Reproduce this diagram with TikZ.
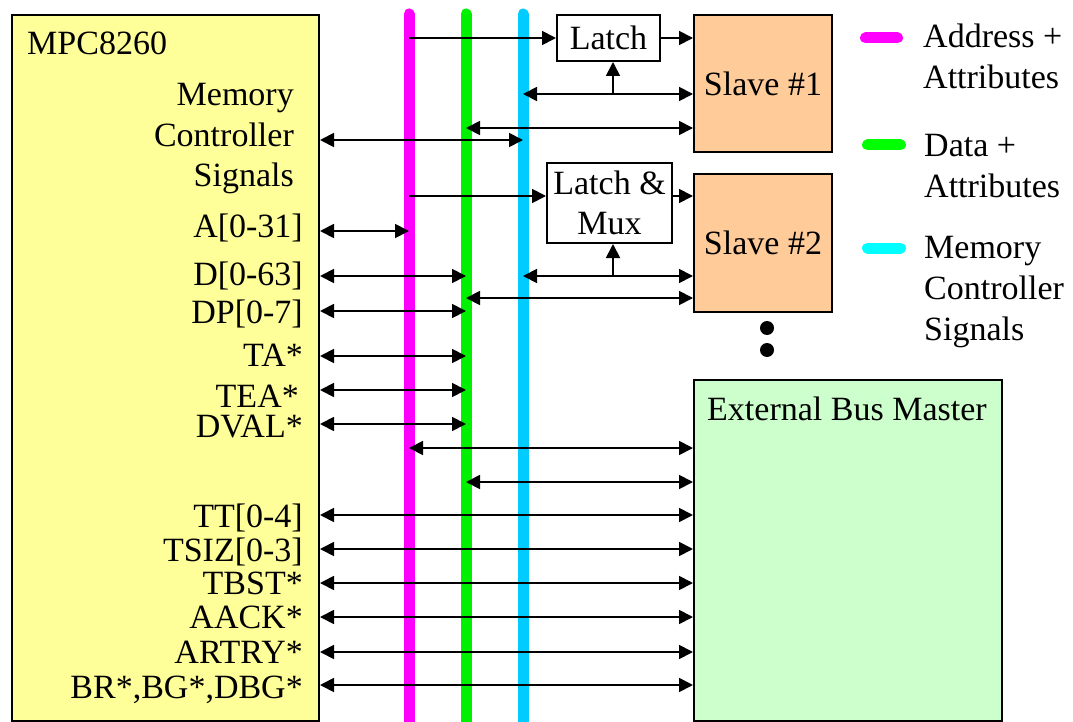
\documentclass[tikz,border=0pt]{standalone}
\usepackage{fontspec}
\setmainfont{Liberation Serif}
\usetikzlibrary{arrows.meta}
\definecolor{busmag}{HTML}{FF00FF}
\definecolor{busgrn}{HTML}{00F000}
\definecolor{buscyn}{HTML}{00CCFF}
\definecolor{leggrn}{HTML}{00FF00}
\definecolor{legcyn}{HTML}{00FFFF}
\definecolor{mpcfill}{HTML}{FFFF99}
\definecolor{slvfill}{HTML}{FFCC99}
\definecolor{ebmfill}{HTML}{CCFFCC}
\begin{document}
\begin{tikzpicture}[x=1pt,y=-1pt,
  every node/.style={font=\fontsize{34}{40}\selectfont, inner sep=0pt},
  box/.style={draw, line width=2pt, anchor=north west, inner sep=0pt},
  bus/.style={line width=11pt, line cap=round},
  sarr/.style={line width=1.8pt, -{Triangle[length=14pt,width=14pt]}},
  darr/.style={line width=1.8pt, {Triangle[length=14pt,width=14pt]}-{Triangle[length=14pt,width=14pt]}},
  lbl/.style={anchor=base east},
  ltxt/.style={anchor=base west}]
\useasboundingbox (0,0) rectangle (1073,722);

% bus lines
\coordinate (busM) at (409,14);
\coordinate (busG) at (466,14);
\coordinate (busC) at (523,14);
\begin{scope}
\clip (0,0) rectangle (1073,722);
\draw[bus, busmag] (busM) -- (409,740);
\draw[bus, busgrn] (busG) -- (466,740);
\draw[bus, buscyn] (busC) -- (523,740);
\end{scope}

% boxes
\node[box, fill=mpcfill, minimum width=307pt, minimum height=706pt] (mpc) at (11,14) {};
\node[box, fill=white, minimum width=103pt, minimum height=46pt] (latch1) at (556,14) {};
\node (latch1t) at (latch1.center) {Latch};
\node[box, fill=white, minimum width=125pt, minimum height=80pt, align=center] (latch2) at (546,162) {Latch \&\\Mux};
\node[box, fill=slvfill, minimum width=138pt, minimum height=137pt] (slave1) at (693,14) {Slave \#1};
\node[box, fill=slvfill, minimum width=138pt, minimum height=138pt] (slave2) at (693,173) {Slave \#2};
\node[box, fill=ebmfill, minimum width=308pt, minimum height=341pt] (ebm) at (693,379) {};
\node[ltxt] (ebmlbl) at (707,420) {External Bus Master};

\node[circle, fill, minimum size=14pt] (dot1) at (767,328) {};
\node[circle, fill, minimum size=14pt] (dot2) at (767,350) {};

% MPC labels
\node[ltxt] (mpclbl) at (27,55) {MPC8260};
\node[lbl] (mc1) at (294,106) {Memory};
\node[lbl] (mc2) at (294,147) {Controller};
\node[lbl] (mc3) at (294,186) {Signals};
\node[lbl] (lA) at (303,237) {A[0-31]};
\node[lbl] (lD) at (303,285) {D[0-63]};
\node[lbl] (lDP) at (303,323) {DP[0-7]};
\node[lbl] (lTA) at (303,366) {TA*};
\node[lbl] (lTEA) at (299,407) {TEA*};
\node[lbl] (lDVAL) at (303,437) {DVAL*};
\node[lbl] (lTT) at (303,527) {TT[0-4]};
\node[lbl] (lTSIZ) at (303,561) {TSIZ[0-3]};
\node[lbl] (lTBST) at (303,594) {TBST*};
\node[lbl] (lAACK) at (303,628) {AACK*};
\node[lbl] (lARTRY) at (303,663) {ARTRY*};
\node[lbl] (lBR) at (303,698) {BR*,BG*,DBG*};

% legend
\draw[bus, busmag] (865.5,38) -- (897.5,38);
\draw[bus, leggrn] (867.5,145) -- (900.5,145);
\draw[bus, legcyn] (867.5,248) -- (900.5,248);
\node[ltxt] (lg1) at (923,48) {Address +};
\node[ltxt] (lg2) at (923,89) {Attributes};
\node[ltxt] (lg3) at (924,157) {Data +};
\node[ltxt] (lg4) at (924,198) {Attributes};
\node[ltxt] (lg5) at (924,258) {Memory};
\node[ltxt] (lg6) at (924,299) {Controller};
\node[ltxt] (lg7) at (924,340) {Signals};

% row coordinates
\coordinate (r1) at (0,38);
\coordinate (r3) at (0,94);
\coordinate (r4) at (0,128);
\coordinate (r5) at (0,140);
\coordinate (r6) at (0,196);
\coordinate (rA) at (0,231);
\coordinate (rD) at (0,276);
\coordinate (r10) at (0,298);
\coordinate (rDP) at (0,311);
\coordinate (rTA) at (0,356);
\coordinate (rTEA) at (0,390);
\coordinate (rDVAL) at (0,424);
\coordinate (rEM) at (0,448);
\coordinate (rEG) at (0,482);
\coordinate (rTT) at (0,515);
\coordinate (rTSIZ) at (0,549);
\coordinate (rTBST) at (0,583);
\coordinate (rAACK) at (0,617);
\coordinate (rARTRY) at (0,652);
\coordinate (rBR) at (0,685);
\coordinate (br1) at (613,94);
\coordinate (br2) at (613,276);

% connectors
\draw[sarr] (busM |- r1) -- (latch1.west |- r1);
\draw[sarr] (latch1.east |- r1) -- (slave1.west |- r1);
\draw[darr] (busC |- r3) -- (slave1.west |- r3);
\draw[sarr] (br1) -- (latch1.south -| br1);
\draw[darr] (busG |- r4) -- (slave1.west |- r4);
\draw[darr] (mpc.east |- r5) -- (busC |- r5);
\draw[sarr] (busM |- r6) -- (latch2.west |- r6);
\draw[sarr] (latch2.east |- r6) -- (slave2.west |- r6);
\draw[darr] (mpc.east |- rA) -- (busM |- rA);
\draw[darr] (mpc.east |- rD) -- (busG |- rD);
\draw[darr] (busC |- rD) -- (slave2.west |- rD);
\draw[sarr] (br2) -- (latch2.south -| br2);
\draw[darr] (busG |- r10) -- (slave2.west |- r10);
\draw[darr] (mpc.east |- rDP) -- (busG |- rDP);
\draw[darr] (mpc.east |- rTA) -- (busG |- rTA);
\draw[darr] (mpc.east |- rTEA) -- (busG |- rTEA);
\draw[darr] (mpc.east |- rDVAL) -- (busG |- rDVAL);
\draw[darr] (busM |- rEM) -- (ebm.west |- rEM);
\draw[darr] (busG |- rEG) -- (ebm.west |- rEG);
\draw[darr] (mpc.east |- rTT) -- (ebm.west |- rTT);
\draw[darr] (mpc.east |- rTSIZ) -- (ebm.west |- rTSIZ);
\draw[darr] (mpc.east |- rTBST) -- (ebm.west |- rTBST);
\draw[darr] (mpc.east |- rAACK) -- (ebm.west |- rAACK);
\draw[darr] (mpc.east |- rARTRY) -- (ebm.west |- rARTRY);
\draw[darr] (mpc.east |- rBR) -- (ebm.west |- rBR);
\end{tikzpicture}
\end{document}
